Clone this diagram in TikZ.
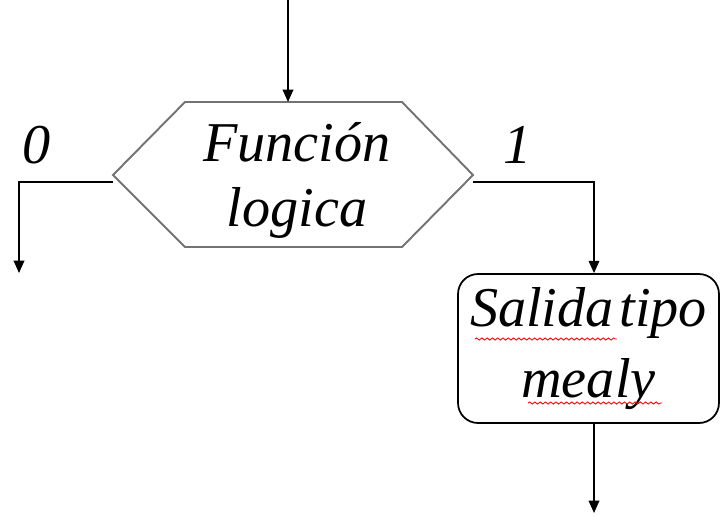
\documentclass[tikz,border=0pt]{standalone}
\usepackage{fontspec}
\setmainfont{Liberation Serif}
\usetikzlibrary{arrows.meta,positioning,decorations.pathmorphing}

\tikzset{flecha/.style={-{Triangle[length=7pt,width=6pt]}, line width=1pt},
  hexa/.style={draw=black!55, line width=1.1pt},
  caja/.style={draw, line width=1pt, rounded corners=0.4cm, minimum width=5.22cm, minimum height=2.98cm, align=center},
  etiq/.style={inner sep=0pt},
  corrector/.style={draw=red, line width=0.5pt, decorate, decoration={snake, amplitude=0.6pt, segment length=3pt}}}

\begin{document}
\begin{tikzpicture}[x=0.02cm, y=-0.02cm, font=\fontsize{32}{37}\selectfont\itshape]
\useasboundingbox (0,0) rectangle (720,515);

% decision
\draw[hexa] (185,102)--(402,102)--(473,175)--(402,247)--(185,247)--(113,175)--cycle;
\node[align=center, etiq] (fun) at (297,180) {Función\\logica};
\coordinate (ini) at (288,0);
\coordinate (arriba) at (288,102);
\coordinate (izq) at (113,182);
\coordinate (der) at (473,182);
\coordinate (fin0) at (19,273);
\coordinate (fin) at (594,513);

% salida
\node[caja, font=\fontsize{32}{40}\selectfont\itshape] (sal) at (588.5,348.5) {Salida\hspace{0.1em}tipo\\mealy};

\draw[flecha] (ini) -- (arriba);
\draw[flecha] (izq) -| (fin0);
\draw[flecha] (der) -| (sal.north -| 594,0);
\draw[flecha] (sal.south -| 594,0) -- (fin);

\node[etiq] (cero) at (37,145) {0};
\node[etiq] (uno) at (518,145) {1};

% subrayado
\draw[corrector] (475,339) -- (617,339);
\draw[corrector] (528,403) -- (662,403);
\end{tikzpicture}
\end{document}
